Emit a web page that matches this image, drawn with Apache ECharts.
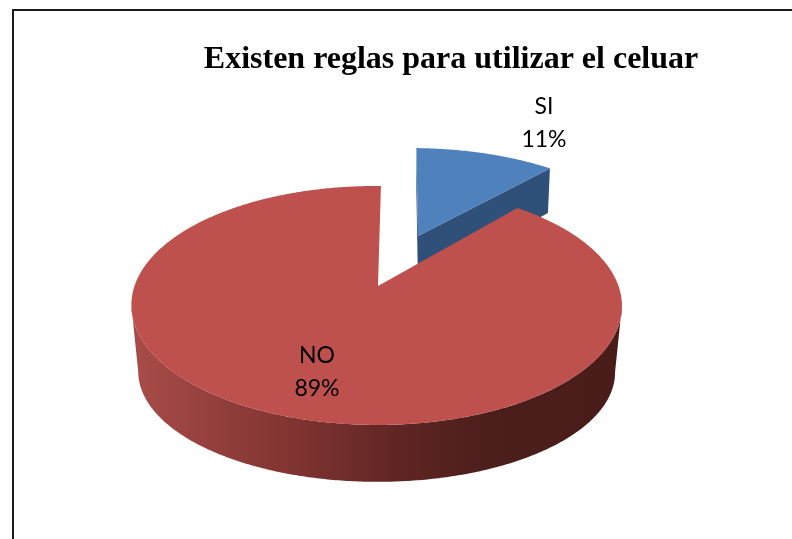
<!DOCTYPE html>
<html><head><meta charset="utf-8">
<style>html,body{margin:0;padding:0;background:#fff}#c{width:792px;height:539px}</style>
<script src="https://cdn.jsdelivr.net/npm/echarts@6/dist/echarts.min.js"></script>
</head><body><div id="c"></div>
<script>
const titleText = 'Existen reglas para utilizar el celuar';
const categories = ['SI', 'NO'];
const values = [11, 89];

const total = values.reduce((a, b) => a + b, 0);
const startDeg = 1.5;
// per-slice perspective projection (each slice is exploded, so it has its own apex)
const views = [
  {ax:418, ay:236, cx:418, cy:236, rx:222, ry:95.4, k:0.0846, skew:-7, depth:48, bx:0.985, by:1.05,
   top:'#4F81BD', side:'#2F5078', lx:544, ly:123},
  {ax:378, ay:286, cx:376.5, cy:286, rx:242, ry:116.3, k:0.163, skew:-1, depth:68, bx:0.972, by:0.92,
   top:'#BE504D', side:null, lx:317, ly:372}
];
function project(v, theta, level) {
  const X = Math.sin(theta), Y = Math.cos(theta), s = 1 / (1 + v.k * Y);
  const bx = level ? v.bx : 1, by = level ? v.by : 1, dz = level ? v.depth : 0;
  return [v.cx + (v.rx * X * s + v.skew * Y) * bx, v.cy + dz - v.ry * Y * s * by];
}
function arc(v, a0, a1, level) {
  const n = Math.max(2, Math.ceil(Math.abs(a1 - a0) / 0.01)), pts = [];
  for (let i = 0; i <= n; i++) pts.push(project(v, a0 + (a1 - a0) * i / n, level));
  return pts;
}
function apex(v, level) {
  return [v.ax, v.ay + (level ? v.depth : 0)];
}
const wallGradient = {type:'linear', x:0, y:0, x2:1, y2:0, colorStops:[
  {offset:0, color:'#A84C49'}, {offset:0.3, color:'#843633'},
  {offset:0.55, color:'#5F2523'}, {offset:0.72, color:'#4C1E1C'}, {offset:1, color:'#491C1A'}
]};
function poly(points, fill) {
  return {type:'polygon', shape:{points}, style:{fill, stroke:null}};
}
function renderItem(params, api) {
  const i = params.dataIndex, v = views[i], children = [];
  let before = 0;
  for (let j = 0; j < i; j++) before += values[j];
  const a0 = (startDeg + before / total * 360) * Math.PI / 180;
  const a1 = a0 + api.value(0) / total * 2 * Math.PI;
  if (i === 0) {
    const t = apex(v, 0), b = apex(v, 1), p0 = project(v, a0, 0), p1 = project(v, a1, 0);
    children.push(poly([t, p0, project(v, a0, 1), b], v.side));
    children.push(poly([t, p1, project(v, a1, 1), b], v.side));
  } else {
    const l = Math.PI * 0.552, r = Math.PI * 1.448;
    const pts = arc(v, l, r, 0).concat(arc(v, r, l, 1));
    children.push(poly(pts, wallGradient));
  }
  children.push(poly([apex(v, 0)].concat(arc(v, a0, a1, 0)), v.top));
  children.push({type:'text', z2:10, style:{
    x:v.lx, y:v.ly, text:categories[i] + '\n' + Math.round(api.value(0) / total * 100) + '%',
    fill:'#000', font:'23px Lato', lineHeight:33, align:'center', verticalAlign:'middle'
  }});
  return {type:'group', children};
}
const chart = echarts.init(document.getElementById('c'), null, {renderer:'canvas'});
chart.setOption({
  animation:false,
  backgroundColor:'#fff',
  title:{text:titleText, left:446, top:39, textAlign:'center',
    textStyle:{fontFamily:'Liberation Serif', fontWeight:'bold', fontSize:32, color:'#000'}},
  graphic:[{type:'polyline', shape:{points:[[13,539],[13,10],[792,10]]},
    style:{stroke:'#1a1a1a', lineWidth:2, fill:null}, z:0}],
  series:[{type:'custom', coordinateSystem:'none', renderItem,
    data:values.map((val, i) => ({name:categories[i], value:[val]}))}]
});
</script></body></html>
